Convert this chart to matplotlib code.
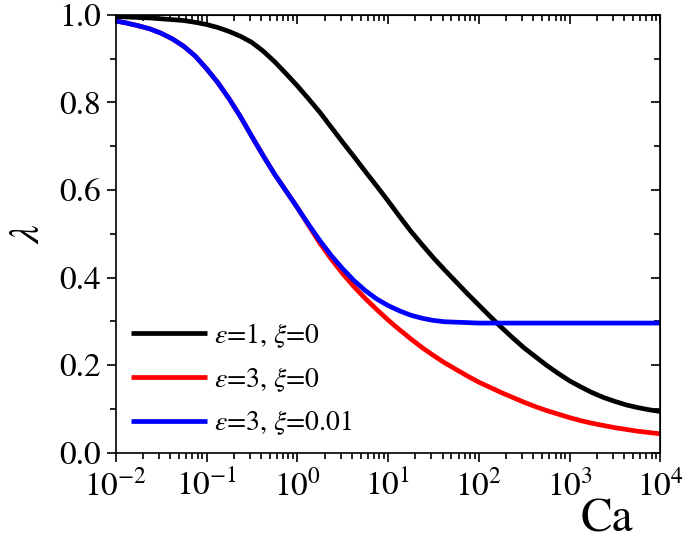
import numpy as np
import matplotlib
matplotlib.use('Agg')
import matplotlib.pyplot as plt
from matplotlib.ticker import LogLocator, MultipleLocator, NullFormatter

plt.rcParams['font.family'] = 'STIXGeneral'
plt.rcParams['mathtext.fontset'] = 'stix'

# log10(Ca) grid, 1/8 decade steps
log_ca = [-2.0, -1.875, -1.75, -1.625, -1.5, -1.375, -1.25, -1.125,
          -1.0, -0.875, -0.75, -0.625, -0.5, -0.375, -0.25, -0.125,
          0.0, 0.125, 0.25, 0.375, 0.5, 0.625, 0.75, 0.875,
          1.0, 1.125, 1.25, 1.375, 1.5, 1.625, 1.75, 1.875,
          2.0, 2.125, 2.25, 2.375, 2.5, 2.625, 2.75, 2.875,
          3.0, 3.125, 3.25, 3.375, 3.5, 3.625, 3.75, 3.875, 4.0]

lam_e1_x0 = [0.996, 0.995, 0.994, 0.993, 0.991, 0.989, 0.987, 0.983,
             0.978, 0.971, 0.962, 0.951, 0.937, 0.917, 0.893, 0.866,
             0.838, 0.808, 0.777, 0.743, 0.709, 0.676, 0.642, 0.609,
             0.575, 0.540, 0.506, 0.475, 0.445, 0.417, 0.390, 0.363,
             0.337, 0.311, 0.286, 0.262, 0.239, 0.219, 0.199, 0.181,
             0.164, 0.150, 0.137, 0.126, 0.117, 0.109, 0.103, 0.098, 0.094]

lam_e3_x0 = [0.986, 0.981, 0.975, 0.968, 0.958, 0.945, 0.928, 0.906,
             0.877, 0.845, 0.808, 0.767, 0.722, 0.678, 0.636, 0.598,
             0.560, 0.519, 0.478, 0.442, 0.409, 0.379, 0.352, 0.327,
             0.303, 0.281, 0.260, 0.240, 0.222, 0.205, 0.190, 0.175,
             0.161, 0.149, 0.137, 0.126, 0.115, 0.105, 0.096, 0.088,
             0.080, 0.073, 0.067, 0.062, 0.057, 0.053, 0.049, 0.046, 0.043]

lam_e3_x001 = [0.986, 0.981, 0.975, 0.968, 0.958, 0.945, 0.928, 0.906,
               0.877, 0.845, 0.808, 0.767, 0.722, 0.678, 0.636, 0.598,
               0.560, 0.521, 0.484, 0.450, 0.420, 0.393, 0.370, 0.351,
               0.336, 0.324, 0.314, 0.307, 0.302, 0.299, 0.298, 0.297,
               0.296, 0.296, 0.296, 0.296, 0.296, 0.296, 0.296, 0.296,
               0.296, 0.296, 0.296, 0.296, 0.296, 0.296, 0.296, 0.296, 0.296]

labels = [r'$\varepsilon$=1, $\xi$=0',
          r'$\varepsilon$=3, $\xi$=0',
          r'$\varepsilon$=3, $\xi$=0.01']
colors = ['black', '#ff0000', '#0000ff']

ca = 10 ** np.array(log_ca)

fig = plt.figure(figsize=(6.85, 5.5), dpi=100)
ax = fig.add_axes([0.169, 0.177, 0.795, 0.796])

for lam, lab, c in zip([lam_e1_x0, lam_e3_x0, lam_e3_x001], labels, colors):
    ax.plot(ca, lam, color=c, lw=3.4, label=lab, solid_capstyle='butt')

ax.set_xscale('log')
ax.set_xlim(1e-2, 1e4)
ax.set_ylim(0, 1.0)
ax.xaxis.set_major_locator(LogLocator(base=10, numticks=10))
ax.xaxis.set_minor_locator(LogLocator(base=10, subs=np.arange(2, 10), numticks=20))
ax.xaxis.set_minor_formatter(NullFormatter())
ax.yaxis.set_major_locator(MultipleLocator(0.2))
ax.yaxis.set_minor_locator(MultipleLocator(0.1))
ax.yaxis.set_major_formatter(plt.FormatStrFormatter('%.1f'))

for s in ax.spines.values():
    s.set_linewidth(1.2)

ax.tick_params(which='both', direction='out', labelsize=24, width=1.2)
ax.tick_params(which='major', length=6.5, pad=4)
ax.tick_params(which='minor', length=4)
ax.tick_params(axis='x', which='major', pad=6)

# mirrored ticks pointing inwards on top and right
top = ax.secondary_xaxis('top')
top.xaxis.set_major_locator(LogLocator(base=10, numticks=10))
top.xaxis.set_minor_locator(LogLocator(base=10, subs=np.arange(2, 10), numticks=20))
top.tick_params(which='both', direction='in', labeltop=False, width=1.2)
top.tick_params(which='major', length=6.5)
top.tick_params(which='minor', length=4)
top.xaxis.set_minor_formatter(NullFormatter())

right = ax.secondary_yaxis('right')
right.yaxis.set_major_locator(MultipleLocator(0.2))
right.yaxis.set_minor_locator(MultipleLocator(0.1))
right.tick_params(which='both', direction='in', labelright=False, width=1.2)
right.tick_params(which='major', length=6.5)
right.tick_params(which='minor', length=4)

ax.set_ylabel(r'$\lambda$', fontsize=30, labelpad=8)
ax.text(0.95, -0.155, 'Ca', transform=ax.transAxes, fontsize=34,
        ha='right', va='center')

ax.legend(loc='lower left', bbox_to_anchor=(0.0, 0.0), frameon=False,
          fontsize=20, handlelength=2.75, handletextpad=0.25,
          labelspacing=0.55, borderaxespad=0.15)

fig.savefig('out.png', dpi=100)
